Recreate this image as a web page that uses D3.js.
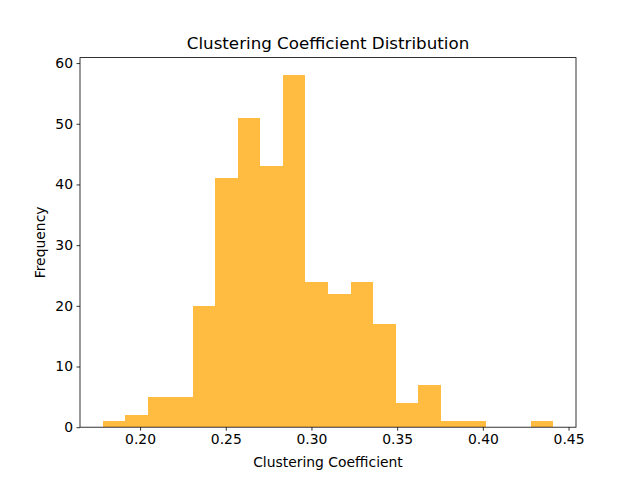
<!DOCTYPE html>
<html><head><meta charset="utf-8">
<script src="https://cdn.jsdelivr.net/npm/d3@7"></script>
<style>body{margin:0;background:#fff}svg{display:block}text{font-family:"DejaVu Sans",sans-serif}</style>
</head><body><svg id="c" width="640" height="480"></svg>
<script>
const binEdges = [0.1781,0.19126,0.20441,0.21757,0.23072,0.24388,0.25703,0.27019,0.28334,0.2965,0.30966,0.32281,0.33597,0.34912,0.36228,0.37543,0.38859,0.40174,0.4149,0.42805,0.4412];
const counts = [1,2,5,5,20,41,51,43,58,24,22,24,17,4,7,1,1,0,0,1];
const xTicks = [0.20,0.25,0.30,0.35,0.40,0.45];
const yTicks = [0,10,20,30,40,50,60];
const title = "Clustering Coefficient Distribution";
const xLabel = "Clustering Coefficient";
const yLabel = "Frequency";

const svg = d3.select("#c");
const L=80, R=576, T=57.6, B=427.2;
const lo=binEdges[0], hi=binEdges[binEdges.length-1], pad=(hi-lo)*0.05;
const x = d3.scaleLinear().domain([lo-pad, hi+pad]).range([L,R]);
const y = d3.scaleLinear().domain([0, d3.max(counts)*1.05]).range([B,T]);

svg.append("g").attr("shape-rendering","crispEdges").selectAll("rect").data(counts).join("rect")
  .attr("x",(d,i)=>x(binEdges[i]))
  .attr("width",(d,i)=>x(binEdges[i+1])-x(binEdges[i]))
  .attr("y",d=>y(d)).attr("height",d=>B-y(d))
  .attr("fill","rgb(255,188,64)");

const xa = svg.append("g").attr("transform",`translate(0,${B})`)
  .call(d3.axisBottom(x).tickValues(xTicks).tickFormat(d3.format(".2f")).tickSizeOuter(0).tickSize(3.5).tickPadding(3.5));
const ya = svg.append("g").attr("transform",`translate(${L},0)`)
  .call(d3.axisLeft(y).tickValues(yTicks).tickFormat(d3.format("d")).tickSizeOuter(0).tickSize(3.5).tickPadding(3.5));
[xa,ya].forEach(a=>{a.select(".domain").remove();a.selectAll("line").attr("stroke","#000").attr("stroke-width",0.8);
  a.selectAll("text").attr("font-size","13.9px").attr("font-family","DejaVu Sans").attr("fill","#000");});

svg.append("rect").attr("x",L).attr("y",T).attr("width",R-L).attr("height",B-T)
  .attr("fill","none").attr("stroke","#000").attr("stroke-width",0.8);

svg.append("text").attr("x",(L+R)/2).attr("y",T-8.3).attr("text-anchor","middle")
  .attr("font-size","16.7px").text(title);
svg.append("text").attr("x",(L+R)/2).attr("y",467).attr("text-anchor","middle")
  .attr("font-size","13.9px").text(xLabel);
svg.append("text").attr("transform",`translate(44.5,${(T+B)/2}) rotate(-90)`).attr("text-anchor","middle")
  .attr("font-size","13.9px").text(yLabel);
</script></body></html>
